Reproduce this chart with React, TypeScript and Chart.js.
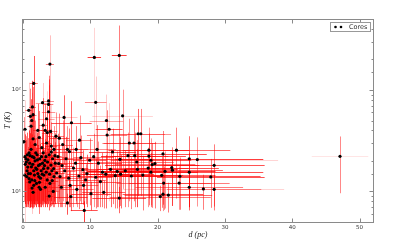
import { useEffect, useRef } from 'react';
import { Chart, registerables } from 'chart.js';
Chart.register(...registerables);

// Distance of each core (pc)
const dist = [
  0.15, 0.3, 0.3, 0.45, 0.5, 0.7, 0.8, 0.9, 1.0, 0.6, 0.85, 0.9, 0.55, 0.35, 0.65, 0.75, 0.25,
  1.4, 1.6, 1.1, 1.3, 1.5, 1.2, 1.6, 1.5, 1.2, 1.4, 1.8, 1.9, 1.1, 1.3, 1.7, 2.0, 1.5, 1.8, 1.0, 1.9, 1.6, 1.05, 1.25, 1.45, 1.65, 1.75, 1.35,
  2.2, 2.4, 2.1, 2.5, 2.3, 2.7, 2.6, 2.9, 2.8, 2.2, 2.9, 2.4, 3.0, 2.6, 2.05, 2.15, 2.35, 2.55, 2.75, 2.85, 2.45,
  3.8, 3.8, 3.8, 4.0, 3.3, 3.6, 4.1, 3.5, 4.2, 3.4, 3.9, 4.4, 3.2, 3.7, 4.3, 3.1, 3.6, 4.6, 4.0, 3.3, 4.9, 5.4, 4.6, 4.8, 4.5, 3.9, 4.2, 3.0, 3.5, 3.05, 3.25, 3.45, 3.65, 3.95, 4.15, 4.35, 4.55, 4.75, 5.0, 5.3,
  6.1, 7.2, 6.6, 6.9, 7.9, 5.7, 7.1, 6.6, 9.1, 8.3, 9.0, 9.9, 8.9, 10.1, 5.8, 6.2, 5.5, 6.8, 7.5, 5.2, 6.4, 7.8, 8.6, 9.5, 7.0, 8.0, 5.9, 10.6, 10.8, 9.3, 8.4,
  14.3, 12.4, 14.8, 12.8, 12.5, 15.8, 16.5, 13.3, 14.4, 13.0, 14.0, 14.5, 13.7, 12.3, 11.8, 15.2, 11.2, 11.5, 14.3, 10.5, 11.0, 12.0, 10.8, 15.6, 16.1, 16.6, 17.1, 17.5,
  18.7, 20.8, 22.8, 18.7, 19.0, 19.6, 19.2, 24.7, 25.9, 28.4, 22.1, 22.2, 21.1, 19.0, 24.7, 23.3, 20.6, 27.9, 20.9, 23.2, 24.7, 26.8, 28.4, 20.8, 21.6, 20.4, 18.6, 17.0, 16.9, 17.8,
  47.1,
];
// Distance uncertainty (pc)
const distErr = [
  0.3, 0.3, 0.4, 0.3, 0.4, 0.4, 0.5, 0.4, 0.5, 0.3, 0.5, 0.6, 0.3, 0.3, 0.4, 0.4, 0.3,
  0.5, 0.6, 0.5, 0.4, 0.5, 0.5, 0.6, 0.4, 0.5, 0.6, 0.5, 0.6, 0.5, 0.5, 0.6, 0.5, 0.5, 0.6, 0.4, 0.5, 0.4, 0.5, 0.5, 0.5, 0.6, 0.6, 0.5,
  0.7, 0.6, 0.6, 0.8, 0.6, 0.7, 0.6, 1.0, 0.7, 0.6, 0.8, 0.5, 0.6, 0.7, 0.6, 0.7, 0.6, 0.7, 0.7, 0.8, 0.6,
  0.8, 0.7, 1.0, 0.6, 0.7, 0.8, 1.0, 0.8, 0.9, 0.8, 0.7, 1.0, 0.7, 0.8, 0.9, 0.6, 0.7, 0.9, 0.8, 0.8, 1.2, 1.5, 1.0, 1.1, 0.8, 0.6, 0.9, 0.6, 1.2, 0.7, 0.7, 0.8, 0.8, 0.8, 0.9, 0.9, 1.0, 1.0, 1.2, 1.3,
  2.0, 3.0, 1.5, 2.0, 1.8, 1.5, 2.5, 2.5, 2.0, 2.0, 2.2, 2.5, 2.3, 3.0, 1.8, 1.6, 1.4, 2.0, 2.2, 1.5, 2.2, 2.6, 2.8, 3.0, 1.8, 2.5, 1.5, 1.0, 1.6, 3.0, 2.0,
  1.1, 2.5, 4.5, 2.0, 3.0, 4.0, 4.5, 3.5, 5.0, 4.0, 4.5, 5.0, 4.0, 3.5, 3.0, 5.5, 3.5, 3.0, 4.0, 3.0, 2.8, 3.2, 2.5, 4.0, 5.0, 5.0, 4.0, 4.5,
  6.0, 6.5, 8.0, 5.5, 6.0, 6.0, 7.0, 11.0, 12.0, 7.5, 7.0, 7.5, 7.5, 7.0, 11.0, 12.0, 8.0, 8.0, 7.0, 7.5, 8.0, 12.0, 7.0, 6.0, 6.5, 7.5, 6.0, 6.0, 5.5, 6.0,
  4.2,
];
// Temperature (K)
const temp = [
  31, 41, 22, 21, 19.5, 17.4, 15, 13.4, 12.4, 16, 63, 24, 14, 18.5, 23, 20.5, 14.5,
  68, 116, 55, 50, 57, 44, 11.5, 9.8, 26, 22, 20, 17, 15, 13, 14.5, 12, 33, 29, 19, 24, 16, 22.5, 17.5, 18.5, 21.5, 12.8, 10.8,
  40, 34, 23, 21, 18, 16, 13.5, 75, 27, 15, 19, 11, 24, 10.5, 16.5, 20.5, 14, 18.5, 22, 14.8, 12.3,
  78, 72, 61, 180, 40, 38, 39, 30, 28, 22, 23, 21, 18, 17, 16, 14.5, 13, 14, 12, 11, 35, 33.5, 26, 19, 10, 9, 24.5, 45, 52, 16.8, 20.2, 15.5, 19.5, 14.8, 18.2, 12.8, 16.8, 22.5, 15.2, 18.8,
  53.6, 47.5, 26, 24.7, 26, 11, 8.9, 7.7, 6.5, 14.2, 11.5, 20.3, 16.4, 9.5, 18, 16, 14, 13.5, 17, 22, 21, 19, 21.5, 15, 11.5, 10.5, 29, 209, 75.5, 13, 32,
  219, 50, 55.6, 41, 36, 30, 30, 24.5, 20.7, 16.5, 15.8, 14.8, 14.3, 14.8, 15.5, 16, 19, 12.5, 8.6, 22, 26, 9.8, 13.8, 22.5, 14.2, 22.5, 37, 37,
  25.5, 23.4, 25.5, 22.3, 20.3, 18.8, 18.4, 21, 20.6, 18.1, 17.2, 16.2, 15.8, 15.5, 15.5, 14.1, 14.4, 13.9, 12.1, 12.1, 11.0, 10.6, 10.5, 9.4, 9.2, 8.9, 17, 16.5, 19.5, 14.5,
  22.2,
];
// Temperature uncertainty (K)
const tempErr = [
  23, 38, 14.5, 14, 12.5, 10, 8, 6.5, 5.5, 8.5, 55, 16, 7, 11, 15, 13, 7.5,
  55, 100, 48, 44, 50, 37, 4.5, 3, 18, 14.5, 12.5, 10, 8, 6, 7, 5, 25, 21, 12, 16, 8.5, 15, 10, 11, 14, 5.5, 4,
  33, 28, 15, 14, 10.5, 8.5, 6.5, 42, 19, 7.5, 11.5, 4, 16, 3.5, 9, 13, 7, 11, 14.5, 7.5, 5,
  60, 55, 50, 165, 33, 31, 32, 22, 20, 14.5, 15, 13.5, 10.5, 9.5, 8.5, 7, 6, 7, 5, 4, 25, 25, 18, 11.5, 3, 2.5, 16.5, 38, 45, 9, 12.5, 8, 12, 7.5, 11, 5.5, 9, 15, 7.5, 11,
  35, 30, 18, 17, 18, 4, 2.5, 1.8, 1.5, 7.5, 4.5, 13, 9, 3, 11, 9, 7, 6.5, 10, 15, 13.5, 11.5, 14, 8, 4.5, 3.5, 21, 200, 60, 5.5, 24,
  212, 40, 45, 33, 27, 22, 22, 17, 13.5, 9.5, 9, 8, 7.5, 8, 8.5, 9, 12, 5.5, 2.5, 15, 19, 3, 7, 15.5, 7.5, 15.5, 28, 28,
  17, 16, 17, 15, 13, 12, 11.5, 14, 13.5, 11, 10, 9, 9, 8.5, 8.5, 7.5, 7.5, 7, 5.5, 5.5, 4.5, 4, 4, 3, 3, 2.5, 10, 9.5, 12.5, 8,
  12.6,
];
// Opacity of the horizontal / vertical error bars
const alphaX = [
  0.6, 0.5, 0.8, 0.8, 0.6, 0.8, 0.7, 0.6, 0.8, 0.6, 0.6, 0.7, 0.5, 0.7, 0.6, 0.7, 0.6,
  0.7, 0.6, 0.6, 0.5, 0.6, 0.5, 0.8, 0.6, 0.8, 0.7, 0.8, 0.7, 0.8, 0.6, 0.7, 0.6, 0.6, 0.5, 0.7, 0.6, 0.7, 0.6, 0.7, 0.8, 0.6, 0.7, 0.7,
  0.6, 0.5, 0.8, 0.7, 0.8, 0.7, 0.6, 0.4, 0.7, 0.6, 0.8, 0.6, 0.6, 0.5, 0.6, 0.8, 0.7, 0.6, 0.7, 0.8, 0.6,
  0.5, 0.6, 0.5, 0.6, 0.7, 0.6, 0.5, 0.7, 0.6, 0.8, 0.7, 0.6, 0.8, 0.7, 0.7, 0.6, 0.7, 0.6, 0.6, 0.5, 0.6, 0.7, 0.7, 0.8, 0.5, 0.5, 0.6, 0.5, 0.4, 0.7, 0.6, 0.7, 0.8, 0.6, 0.7, 0.7, 0.6, 0.7, 0.8, 0.7,
  0.25, 0.8, 0.6, 0.7, 0.5, 0.6, 0.8, 0.7, 0.8, 0.7, 0.6, 0.7, 0.6, 0.8, 0.7, 0.6, 0.8, 0.6, 0.7, 0.6, 0.8, 0.7, 0.5, 0.7, 0.6, 0.6, 0.6, 0.9, 0.5, 0.7, 0.5,
  0.9, 0.4, 0.2, 0.8, 0.6, 0.6, 0.5, 0.8, 0.8, 0.8, 0.9, 0.8, 0.7, 0.8, 0.7, 0.8, 0.7, 0.7, 0.8, 0.6, 0.5, 0.7, 0.7, 0.7, 0.8, 0.6, 0.4, 0.5,
  0.8, 0.8, 0.7, 0.8, 0.7, 0.6, 0.9, 0.9, 0.2, 0.8, 0.8, 0.7, 0.9, 0.8, 0.8, 0.8, 0.7, 0.8, 0.6, 0.6, 0.6, 0.2, 0.5, 0.8, 0.7, 0.6, 0.7, 0.8, 0.6, 0.7,
  0.12,
];
const alphaY = [
  0.5, 0.2, 0.8, 0.5, 0.7, 0.6, 0.8, 0.5, 0.7, 0.4, 0.25, 0.9, 0.5, 0.6, 0.7, 0.6, 0.6,
  0.8, 0.8, 0.6, 0.25, 0.5, 0.7, 0.7, 0.6, 0.8, 0.6, 0.7, 0.8, 0.5, 0.7, 0.6, 0.5, 0.7, 0.6, 0.7, 0.5, 0.7, 0.8, 0.6, 0.7, 0.6, 0.6, 0.7,
  0.7, 0.6, 0.8, 0.6, 0.7, 0.5, 0.7, 0.25, 0.6, 0.6, 0.6, 0.7, 0.7, 0.6, 0.7, 0.6, 0.6, 0.7, 0.5, 0.6, 0.6,
  0.6, 0.7, 0.5, 0.3, 0.6, 0.6, 0.2, 0.7, 0.5, 0.7, 0.6, 0.7, 0.6, 0.7, 0.6, 0.6, 0.5, 0.6, 0.7, 0.6, 0.5, 0.6, 0.5, 0.6, 0.6, 0.7, 0.6, 0.6, 0.2, 0.7, 0.6, 0.6, 0.6, 0.7, 0.6, 0.5, 0.6, 0.6, 0.6, 0.6,
  0.7, 0.7, 0.5, 0.6, 0.6, 0.6, 0.7, 0.8, 0.9, 0.6, 0.7, 0.6, 0.7, 0.7, 0.6, 0.5, 0.6, 0.6, 0.5, 0.6, 0.7, 0.6, 0.6, 0.7, 0.6, 0.5, 0.5, 0.2, 0.25, 0.6, 0.5,
  0.6, 0.25, 0.5, 0.2, 0.6, 0.5, 0.6, 0.6, 0.6, 0.7, 0.6, 0.7, 0.6, 0.7, 0.6, 0.6, 0.5, 0.6, 0.7, 0.5, 0.6, 0.6, 0.6, 0.5, 0.6, 0.6, 0.7, 0.6,
  0.5, 0.6, 0.6, 0.6, 0.5, 0.6, 0.6, 0.7, 0.5, 0.6, 0.6, 0.6, 0.5, 0.6, 0.7, 0.6, 0.6, 0.6, 0.6, 0.5, 0.7, 0.6, 0.6, 0.5, 0.6, 0.6, 0.5, 0.6, 0.5, 0.6,
  0.55,
];

const xTickValues = [0, 10, 20, 30, 40, 50];
const yTickLabels: Record<number, string> = { 10: '10¹', 100: '10²' };
const seriesLabel = 'Cores';
const xTitle = 'd (pc)';
const yTitle = 'T (K)';

const FRAME = '#8a8a8a';
const ALPHA_SCALE = 0.85;

const errorBarPlugin = {
  id: 'errorBars',
  beforeDatasetsDraw(chart: any) {
    const { ctx, chartArea: a, scales } = chart;
    const xs = scales.x;
    const ys = scales.y;
    ctx.save();
    ctx.beginPath();
    ctx.rect(a.left, a.top, a.right - a.left, a.bottom - a.top);
    ctx.clip();
    ctx.lineWidth = 1;
    for (let i = 0; i < dist.length; i++) {
      const px = Math.round(xs.getPixelForValue(dist[i])) + 0.5;
      const py = Math.round(ys.getPixelForValue(temp[i])) + 0.5;
      const lo = Math.max(temp[i] - tempErr[i], 1);
      const y0 = ys.getPixelForValue(lo);
      const y1 = ys.getPixelForValue(temp[i] + tempErr[i]);
      const x0 = xs.getPixelForValue(dist[i] - distErr[i]);
      const x1 = xs.getPixelForValue(dist[i] + distErr[i]);
      ctx.strokeStyle = `rgba(255,0,0,${alphaY[i] * ALPHA_SCALE})`;
      ctx.beginPath();
      ctx.moveTo(px, y0);
      ctx.lineTo(px, y1);
      ctx.stroke();
      ctx.strokeStyle = `rgba(255,0,0,${alphaX[i] * ALPHA_SCALE})`;
      ctx.beginPath();
      ctx.moveTo(x0, py);
      ctx.lineTo(x1, py);
      ctx.stroke();
    }
    ctx.restore();
  },
};

const framePlugin = {
  id: 'frame',
  afterDraw(chart: any) {
    const { ctx, chartArea: a, scales } = chart;
    const xs = scales.x;
    const ys = scales.y;
    const L = Math.round(a.left) - 0.5;
    const R = Math.round(a.right) + 0.5;
    const T = Math.round(a.top) + 0.5;
    const B = Math.round(a.bottom) + 0.5;
    ctx.save();
    ctx.strokeStyle = FRAME;
    ctx.lineWidth = 1;
    ctx.strokeRect(L, T, R - L, B - T);
    // inward ticks
    ctx.beginPath();
    for (const v of xTickValues) {
      const px = Math.round(xs.getPixelForValue(v)) + 0.5;
      ctx.moveTo(px, B);
      ctx.lineTo(px, B - 4);
      ctx.moveTo(px, T);
      ctx.lineTo(px, T + 4);
    }
    for (const t of ys.ticks) {
      const v = t.value;
      const lg = Math.log10(v);
      const major = Math.abs(lg - Math.round(lg)) < 1e-6;
      const len = major ? 4 : 2;
      const py = Math.round(ys.getPixelForValue(v)) + 0.5;
      if (py < T || py > B) continue;
      ctx.moveTo(L, py);
      ctx.lineTo(L + len, py);
      ctx.moveTo(R, py);
      ctx.lineTo(R - len, py);
    }
    ctx.stroke();

    // axis titles
    ctx.fillStyle = '#222';
    ctx.font = 'italic 8px "Liberation Serif", "DejaVu Serif", serif';
    ctx.textAlign = 'center';
    ctx.textBaseline = 'middle';
    ctx.fillText(xTitle, (a.left + a.right) / 2, 235);
    ctx.save();
    ctx.translate(8, (a.top + a.bottom) / 2);
    ctx.rotate(-Math.PI / 2);
    ctx.fillText(yTitle, 0, 0);
    ctx.restore();

    // legend
    const bx = 330.5, by = 22.5, bw = 40, bh = 9;
    ctx.fillStyle = '#fff';
    ctx.fillRect(bx, by, bw, bh);
    ctx.strokeStyle = '#999';
    ctx.strokeRect(bx, by, bw, bh);
    ctx.fillStyle = '#000';
    for (const mx of [335.5, 341]) {
      ctx.beginPath();
      ctx.arc(mx, 27, 1.3, 0, Math.PI * 2);
      ctx.fill();
    }
    ctx.fillStyle = '#333';
    ctx.font = '6.5px "DejaVu Sans", sans-serif';
    ctx.textAlign = 'left';
    ctx.textBaseline = 'middle';
    ctx.fillText(seriesLabel, 349, 27);
    ctx.restore();
  },
};

export default function App() {
  const ref = useRef<HTMLCanvasElement | null>(null);
  useEffect(() => {
    if (!ref.current) return;
    const points = dist.map((d, i) => ({ x: d, y: temp[i] }));
    const tickFont = { size: 5.5, family: '"DejaVu Sans", sans-serif' };
    const chart = new Chart(ref.current, {
      type: 'scatter',
      data: {
        datasets: [
          {
            label: seriesLabel,
            data: points,
            backgroundColor: '#000',
            borderWidth: 0,
            pointRadius: 1.6,
            pointHoverRadius: 1.6,
          },
        ],
      },
      options: {
        responsive: false,
        animation: false,
        devicePixelRatio: 1,
        events: [],
        layout: { padding: { top: 19, right: 26, bottom: 0, left: 0 } },
        plugins: { legend: { display: false }, tooltip: { enabled: false } },
        scales: {
          x: {
            type: 'linear',
            min: 0,
            max: 52,
            grid: { display: false, drawTicks: false },
            border: { display: false },
            ticks: {
              stepSize: 10,
              includeBounds: false,
              padding: 2,
              maxRotation: 0,
              color: '#333',
              font: tickFont,
            },
            afterFit: (s: any) => {
              s.height = 19;
            },
          },
          y: {
            type: 'logarithmic',
            min: 5,
            max: 500,
            grid: { display: false, drawTicks: false },
            border: { display: false },
            ticks: {
              autoSkip: false,
              padding: 2,
              color: '#333',
              font: tickFont,
              callback: (v: any) => yTickLabels[Number(v)] ?? '',
            },
            afterFit: (s: any) => {
              s.width = 23;
            },
          },
        },
      },
      plugins: [errorBarPlugin, framePlugin],
    } as any);
    return () => chart.destroy();
  }, []);
  return (
    <div style={{ position: 'absolute', left: 0, top: 0, width: 399, height: 241, background: '#fff' }}>
      <canvas ref={ref} width={399} height={241} style={{ display: 'block' }} />
    </div>
  );
}
